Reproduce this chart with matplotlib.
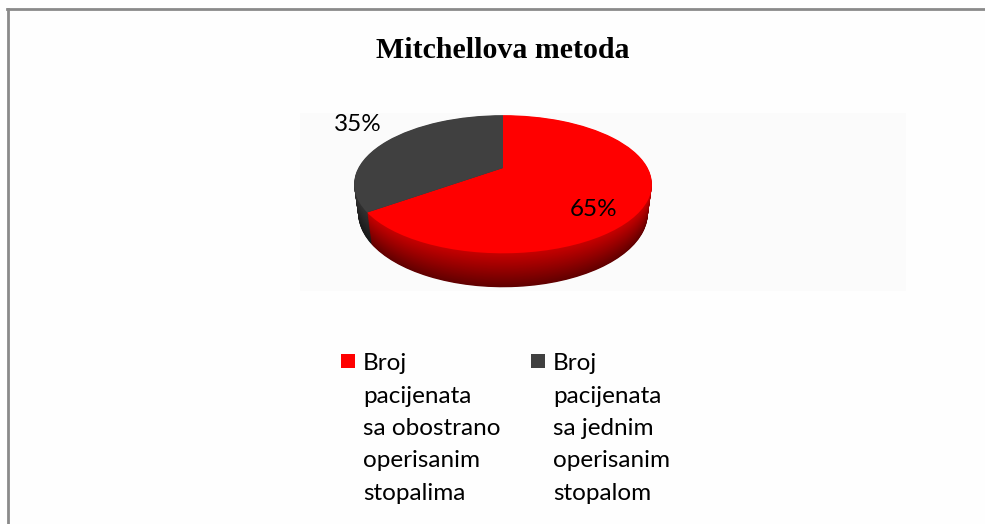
import numpy as np
import matplotlib.pyplot as plt
import matplotlib.colors as mc
from matplotlib.lines import Line2D
from matplotlib.patches import Rectangle
from matplotlib.transforms import Transform

# podaci
kategorije = ["Broj\npacijenata\nsa obostrano\noperisanim\nstopalima",
              "Broj\npacijenata\nsa jednim\noperisanim\nstopalom"]
procenti = [65, 35]
boje = ["#ff0000", "#404040"]
naslov = "Mitchellova metoda"

W, H = 985, 524
fig = plt.figure(figsize=(W / 100, H / 100), dpi=100, facecolor="#fefefe")


def fx(x):
    return x / W


def fy(y):
    return 1 - y / H


def tamnije(c, f):
    r, g, b = mc.to_rgb(c)
    return (r * f, g * f, b * f)


class Perspektiva(Transform):
    """Projekcija diska poluprecnika 1 (na visini z) na ravan ekrana, u pikselima."""
    input_dims = output_dims = 2

    def __init__(self, z, elev=26.8, dist=3.8, fok=550):
        super().__init__()
        self.z = z
        self.s = np.sin(np.radians(elev))
        self.c = np.cos(np.radians(elev))
        self.dist = dist
        self.fok = fok

    def transform_non_affine(self, xy):
        xy = np.asarray(xy, dtype=float)
        x, y = xy[:, 0], xy[:, 1]
        gore = y * self.s + self.z * self.c
        dub = self.dist + y * self.c - self.z * self.s
        return np.column_stack([self.fok * x / dub, self.fok * gore / dub])


# okvir grafikona (gornja i lijeva ivica)
fig.add_artist(Line2D([fx(7), fx(W)], [fy(9), fy(9)], color="#8a8a8a", lw=2))
fig.add_artist(Line2D([fx(8), fx(8)], [fy(9), fy(H)], color="#8a8a8a", lw=2))

# svijetla pozadina oblasti grafikona
fig.add_artist(Rectangle((fx(300), fy(291)), fx(606), 178 / H, zorder=-5,
                         transform=fig.transFigure, color="#fbfbfb", lw=0))

fig.text(fx(503), fy(50), naslov, ha="center", va="center",
         family="Liberation Serif", fontweight="bold", fontsize=21.5)

# 3D pita u perspektivi; koordinate ose su pikseli oko centra pite
cx, cy = 503, 168
ax = fig.add_axes([0, 0, 1, 1])
ax.patch.set_alpha(0)

debljina = 0.226
n = 45
for i in range(n, 0, -1):
    t = i / n
    f = 0.78 - 0.40 * t
    kl, _ = ax.pie(procenti, colors=[tamnije(c, f) for c in boje], startangle=90,
                   counterclock=False, radius=1, frame=True,
                   wedgeprops=dict(linewidth=0))
    for w in kl:
        w.set_transform(Perspektiva(-debljina * t) + ax.transData)
kl, _ = ax.pie(procenti, colors=boje, startangle=90, counterclock=False,
               radius=1, frame=True, wedgeprops=dict(linewidth=0))
for w in kl:
    w.set_transform(Perspektiva(0.0) + ax.transData)

ax.set_aspect("auto")
ax.set_xlim(-cx, W - cx)
ax.set_ylim(-(H - cy), cy)
ax.axis("off")

# oznake procenata
fig.text(fx(358), fy(124), f"{procenti[1]}%", ha="center", va="center",
         family="Lato", fontsize=17.5)
fig.text(fx(594), fy(209), f"{procenti[0]}%", ha="center", va="center",
         family="Lato", fontsize=17.5)

# legenda
leg_x = [341, 531]
for lx, c, txt in zip(leg_x, boje, kategorije):
    fig.add_artist(Rectangle((fx(lx), fy(368)), 14 / W, 14 / H,
                             transform=fig.transFigure, color=c, lw=0))
    for k, red in enumerate(txt.split("\n")):
        fig.text(fx(lx + 22), fy(364 + 32.3 * k), red, ha="left", va="center",
                 family="Lato", fontsize=17.5)

fig.savefig("out.png", dpi=100, facecolor=fig.get_facecolor())
